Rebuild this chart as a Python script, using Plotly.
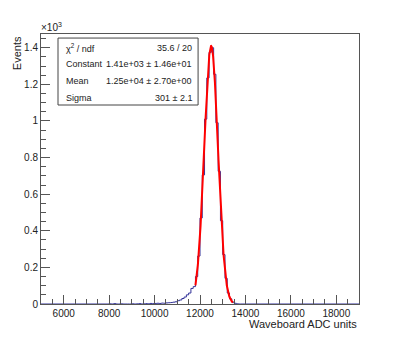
import numpy as np
import plotly.graph_objects as go

# histogram: 100-unit bins starting at 8000 (everything else is empty)
bin_start = 8000
bin_width = 100
counts = [1, 0, 2, 0, 0, 1, 0, 0, 0, 0,
          1, 0, 1, 2, 0, 1, 2, 1, 3, 2,
          3, 4, 3, 5, 4, 6, 7, 8, 10, 12,
          18, 22, 30, 38, 50, 60, 85, 95, 150, 262,
          470, 705, 1010, 1235, 1375, 1400, 1255, 990, 725, 455,
          270, 140, 60, 28, 10, 4, 1, 0]

# gaussian fit result (constant, mean, sigma) and fit range
fit_params = [1410, 12490, 301]
fit_range = [11800, 13450]

stat_labels = ["χ<sup>2</sup> / ndf", "Constant", "Mean", "Sigma"]
stat_values = ["35.6 / 20", "1.41e+03 ± 1.46e+01", "1.25e+04 ± 2.70e+00", "301 ± 2.1"]

y_ticks = [0, 200, 400, 600, 800, 1000, 1200, 1400]
y_ticktext = ["0", "0.2", "0.4", "0.6", "0.8", "1", "1.2", "1.4"]

edges = [bin_start + i * bin_width for i in range(len(counts) + 1)]
hx = [5000] + edges + [19000]
hy = [0] + counts + [0, 0]

fx = np.linspace(fit_range[0], fit_range[1], 300)
const, mean, sigma = fit_params
fy = const * np.exp(-0.5 * ((fx - mean) / sigma) ** 2)

fig = go.Figure()
fig.add_trace(go.Scatter(x=hx, y=hy, mode="lines", line_shape="hv",
                         line=dict(color="rgb(51,51,153)", width=1), hoverinfo="skip"))
fig.add_trace(go.Scatter(x=fx, y=fy, mode="lines",
                         line=dict(color="red", width=2), hoverinfo="skip"))

font = "Liberation Sans, Arial, sans-serif"
axis_common = dict(showgrid=False, zeroline=False, showline=True, mirror=True,
                   linecolor="#555", linewidth=1, ticks="inside", tickcolor="#555",
                   tickfont=dict(size=10, color="#222", family=font))
fig.update_xaxes(range=[5000, 19000], tickvals=list(range(6000, 18001, 2000)), tickformat="d",
                 ticklen=9, minor=dict(dtick=500, tick0=5000, ticks="inside", ticklen=5, tickcolor="#555"),
                 **axis_common)
fig.update_yaxes(range=[0, 1475], tickvals=y_ticks, ticktext=y_ticktext,
                 ticklen=9, minor=dict(dtick=50, tick0=0, ticks="inside", ticklen=5, tickcolor="#555"),
                 **axis_common)

# stat box
fig.add_shape(type="rect", xref="paper", yref="paper", x0=0.0535, x1=0.494, y0=0.737, y1=0.985,
              line=dict(color="#444", width=1), fillcolor="white")
row_y = [0.948, 0.889, 0.826, 0.763]
for lab, val, yy in zip(stat_labels, stat_values, row_y):
    fig.add_annotation(text=lab, xref="paper", yref="paper", x=0.0723, y=yy,
                       xanchor="left", yanchor="middle", showarrow=False,
                       font=dict(size=9, color="#222", family=font))
    fig.add_annotation(text=val, xref="paper", yref="paper", x=0.481, y=yy,
                       xanchor="right", yanchor="middle", showarrow=False,
                       font=dict(size=9, color="#222", family=font))

fig.add_annotation(text="Events", xref="paper", yref="paper", x=-0.075, y=1.0,
                   textangle=-90, xanchor="center", yanchor="top", showarrow=False,
                   font=dict(size=11, color="#222", family=font))
fig.add_annotation(text="Waveboard ADC units", xref="paper", yref="paper", x=1.0, y=-0.074,
                   xanchor="right", yanchor="middle", showarrow=False,
                   font=dict(size=11, color="#222", family=font))
fig.add_annotation(text="×10<sup>3</sup>", xref="paper", yref="paper", x=-0.005, y=1.025,
                   xanchor="left", yanchor="middle", showarrow=False,
                   font=dict(size=10, color="#222", family=font))

# page body has an 8px margin, so the figure is shrunk by that much
fig.update_layout(width=391, height=330, margin=dict(l=33, r=40, t=26, b=34),
                  showlegend=False, plot_bgcolor="white", paper_bgcolor="white")

fig.write_html("out.html")
